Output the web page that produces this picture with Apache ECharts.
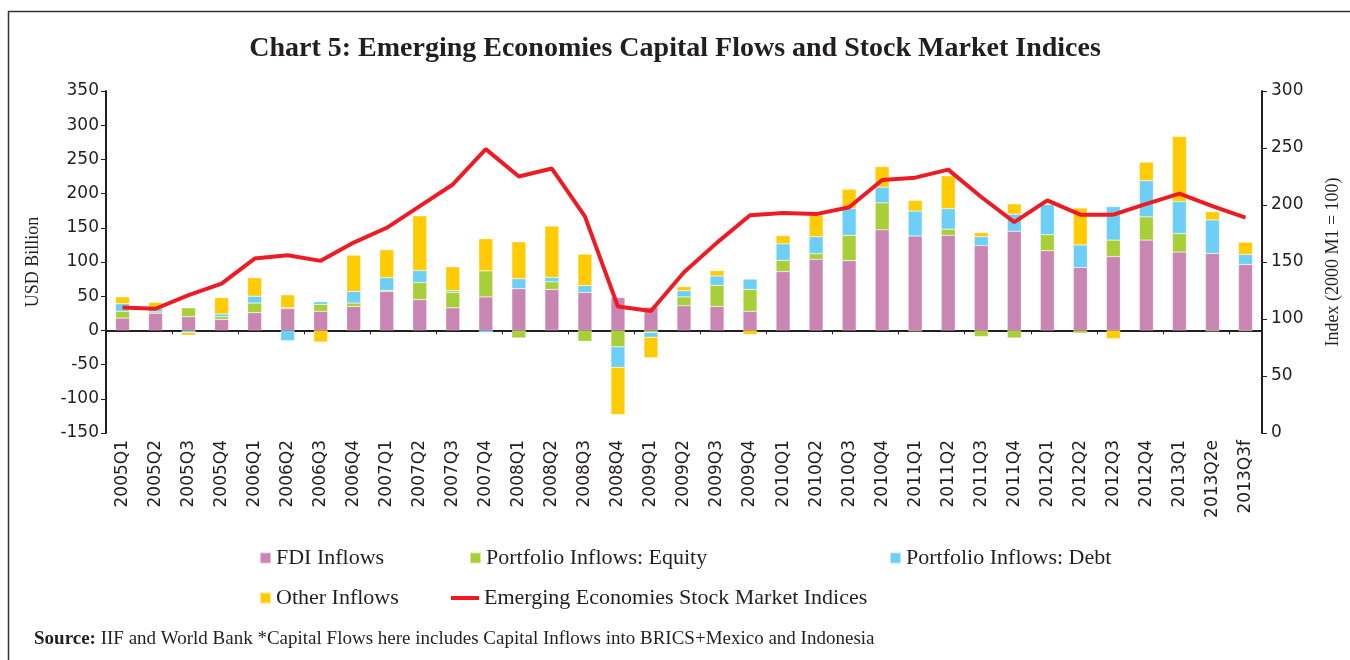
<!DOCTYPE html>
<html>
<head>
<meta charset="utf-8">
<title>Chart 5</title>
<script src="https://cdn.jsdelivr.net/npm/echarts@6/dist/echarts.min.js"></script>
<style>
    html, body { margin: 0; padding: 0; background: #fff; }
    .chart { width: 1350px; height: 660px; }
</style>
</head>
<body>
<div class="chart"></div>
<script>
// quarters on the x axis
var quarters = ['2005Q1', '2005Q2', '2005Q3', '2005Q4', '2006Q1', '2006Q2', '2006Q3', '2006Q4',
    '2007Q1', '2007Q2', '2007Q3', '2007Q4', '2008Q1', '2008Q2', '2008Q3', '2008Q4',
    '2009Q1', '2009Q2', '2009Q3', '2009Q4', '2010Q1', '2010Q2', '2010Q3', '2010Q4',
    '2011Q1', '2011Q2', '2011Q3', '2011Q4', '2012Q1', '2012Q2', '2012Q3', '2012Q4',
    '2013Q1', '2013Q2e', '2013Q3f'];

// USD billion
var fdi = [18, 25, 20, 16, 26, 32, 28, 35, 57, 45, 33, 49, 61, 60, 55.5, 48, 34, 36, 35, 28,
    86, 104, 102, 147, 138, 139, 124, 145, 116.5, 92, 108, 132, 114.5, 112.5, 96.5];
var equity = [10, 2, 13, 4, 14, 1.5, 10, 5, 1.5, 25, 22.5, 38, -11, 11, -16, -24, -3, 13, 31, 32,
    16.5, 8, 37, 39.5, -1.5, 9, -9, -11, 23.5, -4, 24, 34, 27, -1.5, -1];
var debt = [11, 5, -3, 4, 10, -15, 4, 17, 18.5, 17.5, 2.5, -3, 14.5, 6.5, 10, -30, -7, 9, 13.5, 15,
    24, 25, 39.5, 23, 36.5, 30, 13, 25, 44, 33, 49, 53, 47, 49, 14.5];
var other = [10, 9, -4, 24, 27, 18.5, -17, 53, 41, 80, 35, 47, 54, 75, 46, -69, -30, 6, 8, -6,
    12, 31, 28, 30, 15.5, 48, 6, 15, 2, 54, -12, 27, 95, 12, 18];

// index, 2000 M1 = 100
var stockIndex = [110, 109, 121, 131, 153, 156, 151, 167, 180, 199, 218, 249, 225, 232, 190, 111,
    107, 141, 167, 191, 193, 192, 198, 222, 224, 231, 207, 185, 204, 191.5, 191.5, 201,
    210, 199, 189];

var leftTicks = { min: -150, max: 350, interval: 50 };
var rightTicks = { min: 0, max: 300, interval: 50 };

(function () {
    var myChart = echarts.init(document.querySelector('.chart'));
    var sans = 'DejaVu Sans';
    var serif = 'Liberation Serif';
    var ink = '#231f20';

    function barSeries(name, data, color) {
        return {
            name: name,
            type: 'bar',
            stack: 'flows',
            barWidth: 14,
            data: data,
            itemStyle: { color: color, borderColor: 'rgba(255,255,255,0.5)', borderWidth: 0.5 }
        };
    }

    function legendItem(name, left, top, w, h) {
        return {
            data: [{ name: name, icon: 'rect' }],
            left: left,
            top: top,
            itemWidth: w || 11,
            itemHeight: h || 11,
            selectedMode: false,
            textStyle: { fontFamily: serif, fontSize: 22, color: ink }
        };
    }

    var option = {
        animation: false,
        title: [
            {
                text: 'Chart 5: Emerging Economies Capital Flows and Stock Market Indices',
                left: 'center',
                top: 30,
                textStyle: { fontFamily: serif, fontWeight: 'bold', fontSize: 28, color: ink }
            },
            {
                text: '{b|Source:} IIF and World Bank *Capital Flows here includes Capital Inflows into BRICS+Mexico and Indonesia',
                left: 29,
                top: 625,
                textStyle: {
                    fontFamily: serif, fontSize: 19, color: ink, fontWeight: 'normal',
                    rich: { b: { fontFamily: serif, fontSize: 19, fontWeight: 'bold', color: ink } }
                }
            }
        ],
        legend: [
            legendItem('FDI Inflows', 254, 542),
            legendItem('Portfolio Inflows: Equity', 464, 542),
            legendItem('Portfolio Inflows: Debt', 884, 542),
            legendItem('Other Inflows', 254, 582),
            legendItem('Emerging Economies Stock Market Indices', 446, 582, 28, 4)
        ],
        graphic: [
            { type: 'line', shape: { x1: 8.5, y1: 11, x2: 8.5, y2: 660 }, style: { stroke: '#333', lineWidth: 1.5 } },
            { type: 'line', shape: { x1: 8, y1: 11.5, x2: 1350, y2: 11.5 }, style: { stroke: '#333', lineWidth: 1.5 } }
        ],
        grid: { left: 106, right: 87, top: 91, bottom: 227 },
        xAxis: [
            {
                type: 'category',
                data: quarters,
                axisLine: { onZero: true, onZeroAxisIndex: 0, lineStyle: { color: ink, width: 2 } },
                axisTick: { show: true, length: 4, lineStyle: { color: ink } },
                axisLabel: { show: false }
            },
            {
                type: 'category',
                data: quarters,
                position: 'bottom',
                axisLine: { show: false, onZero: false },
                axisTick: { show: false },
                axisLabel: {
                    interval: 0, rotate: 90, margin: 7,
                    fontFamily: sans, fontSize: 17, color: ink
                }
            }
        ],
        yAxis: [
            {
                type: 'value',
                min: leftTicks.min,
                max: leftTicks.max,
                interval: leftTicks.interval,
                name: 'USD Billion',
                nameLocation: 'middle',
                nameGap: 64,
                nameTextStyle: { fontFamily: serif, fontSize: 18, color: ink },
                splitLine: { show: false },
                axisLine: { show: true, lineStyle: { color: ink, width: 2 } },
                axisTick: { show: true, length: 5, lineStyle: { color: ink } },
                axisLabel: { margin: 7, fontFamily: sans, fontSize: 17, color: ink }
            },
            {
                type: 'value',
                min: rightTicks.min,
                max: rightTicks.max,
                interval: rightTicks.interval,
                name: 'Index (2000 M1 = 100)',
                nameLocation: 'middle',
                nameGap: 62,
                nameTextStyle: { fontFamily: serif, fontSize: 18, color: ink },
                splitLine: { show: false },
                axisLine: { show: true, lineStyle: { color: ink, width: 2 } },
                axisTick: { show: true, length: 5, lineStyle: { color: ink } },
                axisLabel: { margin: 9, fontFamily: sans, fontSize: 17, color: ink }
            }
        ],
        series: [
            barSeries('FDI Inflows', fdi, '#c986b2'),
            barSeries('Portfolio Inflows: Equity', equity, '#a8cf3a'),
            barSeries('Portfolio Inflows: Debt', debt, '#6dcff6'),
            barSeries('Other Inflows', other, '#ffcb05'),
            {
                name: 'Emerging Economies Stock Market Indices',
                type: 'line',
                yAxisIndex: 1,
                data: stockIndex,
                symbol: 'none',
                z: 5,
                itemStyle: { color: '#ed1c24' },
                lineStyle: { color: '#ed1c24', width: 4 }
            }
        ]
    };

    myChart.setOption(option);

    window.addEventListener('resize', function () {
        myChart.resize();
    });
})();
</script>
</body>
</html>
